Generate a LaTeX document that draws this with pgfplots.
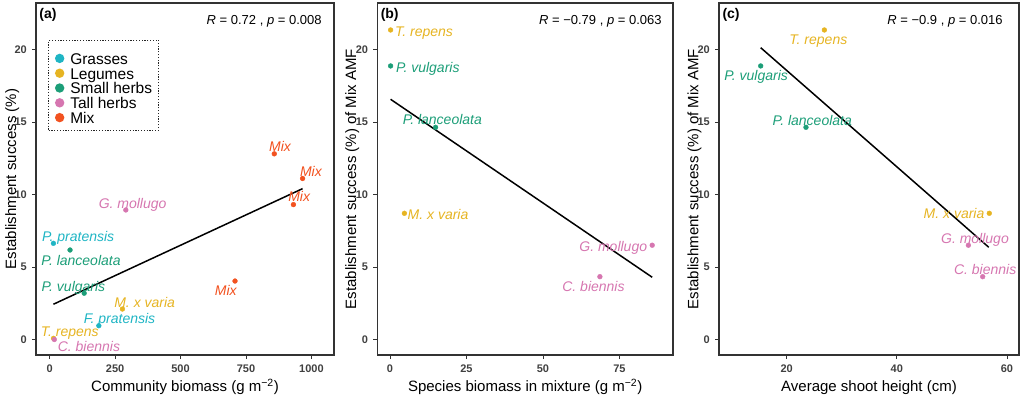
\documentclass[border=0pt]{standalone}
\usepackage{fontspec}
\setmainfont{Liberation Sans}
\usepackage{pgfplots}
\pgfplotsset{compat=1.18}
\definecolor{cgrass}{RGB}{31,181,196}
\definecolor{clegume}{RGB}{230,180,34}
\definecolor{csmall}{RGB}{28,158,120}
\definecolor{ctall}{RGB}{214,118,176}
\definecolor{cmix}{RGB}{242,82,32}
\tikzset{lab/.style={font=\itshape\fontsize{14}{14}\selectfont, inner sep=0pt, text height=10pt, text depth=0pt, anchor=center}}
\pgfplotsset{
 panel/.style={
  scale only axis, height=352pt, ymin=-1.07, ymax=23.2, ytick={0,5,10,15,20},
  axis line style={draw=black!80, line width=1.1pt},
  tick pos=left, tick align=outside, major tick length=4pt,
  tick style={draw=black!80, line width=0.8pt},
  scaled ticks=false,
  /pgf/number format/assume math mode=true,
  /pgf/number format/1000 sep={},
  tick label style={font=\bfseries\fontsize{11}{12}\selectfont, text=black!75},
  yticklabel style={xshift=-4.5pt, inner sep=0.5pt},
  xticklabel style={yshift=-4pt, inner sep=1.5pt},
  label style={font=\fontsize{15}{18}\selectfont},
  xlabel style={at={(axis description cs:0.5,-0.104)}, anchor=base},
  clip=false,
 },
 pts/.style={only marks, mark=*, mark size=2.4pt, forget plot},
 reg/.style={black, line width=1.5pt, forget plot},
}
\newcommand{\tagtxt}[1]{\node[anchor=base west, font=\bfseries\fontsize{14}{14}\selectfont, inner sep=0pt] at (axis description cs:0.011,0.957) {#1};}
\newcommand{\legimg}[2]{\addlegendimage{legend image code/.code={\fill[#1, draw=none] (0pt,2pt) circle (4.7pt); \path[draw=none, fill=none] (-5pt,-3pt) rectangle (10pt,#2);}}}
\begin{document}
\begin{tikzpicture}
\useasboundingbox (0pt,0pt) rectangle (1024pt,397pt);
% ---------------- (a)
\begin{axis}[panel, at={(36pt,42pt)}, anchor=south west, width=298pt,
  xmin=-52, xmax=1086, xtick={0,250,500,750,1000},
  xlabel={Community biomass (g m\textsuperscript{−2})},
  ylabel={Establishment success (\%)},
  ylabel style={at={(axis description cs:-0.067,0.5)}, anchor=base, rotate=0},
  legend style={at={(axis description cs:0.041,0.895)}, anchor=north west,
    draw=black!85, dash pattern=on 1.2pt off 1.6pt, line width=0.9pt,
    font=\fontsize{15.5}{15.5}\selectfont, inner xsep=6pt, inner ysep=3pt, row sep=0pt,
    nodes={inner sep=0.6pt, text height=10.6pt, text depth=3pt}},
  legend cell align=left,
]
\legimg{cgrass}{17pt}
\addlegendentry{Grasses}
\legimg{clegume}{7pt}
\addlegendentry{Legumes}
\legimg{csmall}{7pt}
\addlegendentry{Small herbs}
\legimg{ctall}{7pt}
\addlegendentry{Tall herbs}
\legimg{cmix}{7pt}
\addlegendentry{Mix}
\addplot[reg] coordinates {(14.5,2.43) (966,10.4)};
\addplot[pts, color=cgrass] coordinates {(14.5,6.63) (188,0.95)};
\addplot[pts, color=clegume] coordinates {(278,2.1) (15,0.08)};
\addplot[pts, color=csmall] coordinates {(78,6.17) (132,3.19)};
\addplot[pts, color=ctall] coordinates {(291,8.93) (18,0.0)};
\addplot[pts, color=cmix] coordinates {(708,4.03) (931,9.3) (966,11.1) (858,12.8)};
\node[lab, text=cgrass] at (axis cs:109,7.07) {P. pratensis};
\node[lab, text=csmall] at (axis cs:120,5.48) {P. lanceolata};
\node[lab, text=csmall] at (axis cs:91,3.64) {P. vulgaris};
\node[lab, text=clegume] at (axis cs:363,2.57) {M. x varia};
\node[lab, text=cgrass] at (axis cs:267,1.46) {F. pratensis};
\node[lab, text=clegume] at (axis cs:77,0.54) {T. repens};
\node[lab, text=ctall] at (axis cs:150,-0.5) {C. biennis};
\node[lab, text=ctall] at (axis cs:317,9.39) {G. mollugo};
\node[lab, text=cmix] at (axis cs:673,3.41) {Mix};
\node[lab, text=cmix] at (axis cs:953,9.85) {Mix};
\node[lab, text=cmix] at (axis cs:998,11.57) {Mix};
\node[lab, text=cmix] at (axis cs:880,13.3) {Mix};
\node[anchor=base east, font=\fontsize{13}{13}\selectfont, inner sep=0pt] at (axis description cs:0.959,0.9375) {\textit{R} = 0.72 , \textit{p} = 0.008};
\tagtxt{(a)}
\end{axis}
% ---------------- (b)
\begin{axis}[panel, at={(377.3pt,42pt)}, anchor=south west, width=295.7pt,
  xmin=-4.15, xmax=92.5, xtick={0,25,50,75},
  xlabel={Species biomass in mixture (g m\textsuperscript{−2})},
  ylabel={Establishment success (\%) of Mix AMF},
  ylabel style={at={(axis description cs:-0.072,0.5)}, anchor=base, rotate=0},
]
\addplot[reg] coordinates {(0.2,16.56) (85.7,4.29)};
\addplot[pts, color=clegume] coordinates {(0.2,21.34) (4.7,8.7)};
\addplot[pts, color=csmall] coordinates {(0.2,18.86) (14.9,14.63)};
\addplot[pts, color=ctall] coordinates {(85.7,6.5) (68.6,4.33)};
\node[lab, text=clegume] at (axis cs:11.1,21.23) {T. repens};
\node[lab, text=csmall] at (axis cs:12.35,18.75) {P. vulgaris};
\node[lab, text=csmall] at (axis cs:17.1,15.14) {P. lanceolata};
\node[lab, text=clegume] at (axis cs:15.7,8.59) {M. x varia};
\node[lab, text=ctall] at (axis cs:72.97,6.4) {G. mollugo};
\node[lab, text=ctall] at (axis cs:66.5,3.64) {C. biennis};
\node[anchor=base east, font=\fontsize{13}{13}\selectfont, inner sep=0pt] at (axis description cs:0.962,0.9375) {\textit{R} = −0.79 , \textit{p} = 0.063};
\tagtxt{(b)}
\end{axis}
% ---------------- (c)
\begin{axis}[panel, at={(719pt,42pt)}, anchor=south west, width=300pt,
  xmin=7.7, xmax=62.2, xtick={20,40,60},
  xlabel={Average shoot height (cm)},
  ylabel={Establishment success (\%) of Mix AMF},
  ylabel style={at={(axis description cs:-0.069,0.5)}, anchor=base, rotate=0},
]
\addplot[reg] coordinates {(15.27,20.12) (56.7,6.36)};
\addplot[pts, color=clegume] coordinates {(26.84,21.34) (56.8,8.7)};
\addplot[pts, color=csmall] coordinates {(15.27,18.86) (23.5,14.63)};
\addplot[pts, color=ctall] coordinates {(53.0,6.5) (55.6,4.33)};
\node[lab, text=clegume] at (axis cs:25.75,20.7) {T. repens};
\node[lab, text=csmall] at (axis cs:14.45,18.2) {P. vulgaris};
\node[lab, text=csmall] at (axis cs:24.65,15.1) {P. lanceolata};
\node[lab, text=clegume] at (axis cs:50.4,8.66) {M. x varia};
\node[lab, text=ctall] at (axis cs:54.2,6.98) {G. mollugo};
\node[lab, text=ctall] at (axis cs:56.05,4.8) {C. biennis};
\node[anchor=base east, font=\fontsize{13}{13}\selectfont, inner sep=0pt] at (axis description cs:0.946,0.9375) {\textit{R} = −0.9 , \textit{p} = 0.016};
\tagtxt{(c)}
\end{axis}
\end{tikzpicture}
\end{document}
